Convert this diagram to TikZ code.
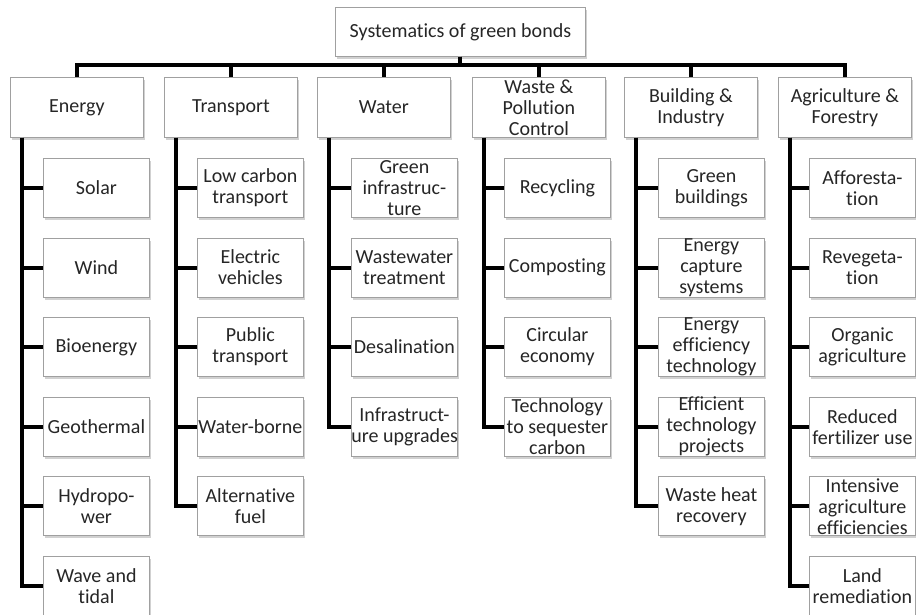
\documentclass[tikz,border=0pt]{standalone}
\usepackage{fontspec}
\setmainfont{Carlito}[Ligatures=NoCommon]
\usetikzlibrary{shadows}
\definecolor{txt}{HTML}{262626}
\definecolor{bord}{HTML}{A0A0A0}
\tikzset{
  box/.style={draw=bord, line width=0.8pt, fill=white, inner sep=0pt, anchor=north west,
    text=txt, font=\fontsize{20}{21}\selectfont,
    drop shadow={shadow xshift=2pt, shadow yshift=-2.5pt, fill=black!40, opacity=0.45}},
  conn/.style={line width=4pt, black, line join=miter},
}
\newcommand\cb[1]{\parbox[c][59pt][c]{106pt}{\centering #1}}
\newcommand\kb[1]{\parbox[c][60pt][c]{133pt}{\centering #1}}
\begin{document}
\begin{tikzpicture}[x=1pt,y=-1pt]
\useasboundingbox (0,0) rectangle (916,614);
% root
\node[box] (root) at (335,7) {\parbox[c][49pt][c]{250pt}{\centering Systematics of green bonds}};
% categories
\node[box] (E) at (10,77)  {\kb{Energy}};
\node[box] (T) at (164,77) {\kb{Transport}};
\node[box] (W) at (317,77) {\kb{Water}};
\node[box] (P) at (472,77) {\kb{Waste \&\\Pollution\\Control}};
\node[box] (B) at (624,77) {\kb{Building \&\\Industry}};
\node[box] (A) at (778,77) {\kb{Agriculture \&\\Forestry}};
% Energy children
\node[box] (E1) at (43,158)   {\cb{Solar}};
\node[box] (E2) at (43,237.6) {\cb{Wind}};
\node[box] (E3) at (43,317.2) {\cb{Bioenergy}};
\node[box] (E4) at (43,396.8) {\cb{Geothermal}};
\node[box] (E5) at (43,476.4) {\cb{Hydropo-\\wer}};
\node[box] (E6) at (43,556)   {\cb{Wave and\\tidal}};
% Transport children
\node[box] (T1) at (197,158)   {\cb{Low carbon\\transport}};
\node[box] (T2) at (197,237.6) {\cb{Electric\\vehicles}};
\node[box] (T3) at (197,317.2) {\cb{Public\\transport}};
\node[box] (T4) at (197,396.8) {\cb{Water-borne}};
\node[box] (T5) at (197,476.4) {\cb{Alternative\\fuel}};
% Water children
\node[box] (W1) at (351,158)   {\cb{Green\\infrastruc-\\ture}};
\node[box] (W2) at (351,237.6) {\cb{Wastewater\\treatment}};
\node[box] (W3) at (351,317.2) {\cb{Desalination}};
\node[box] (W4) at (351,396.8) {\cb{Infrastruct-\\\mbox{ure upgrades}}};
% Waste children
\node[box] (P1) at (504,158)   {\cb{Recycling}};
\node[box] (P2) at (504,237.6) {\cb{Composting}};
\node[box] (P3) at (504,317.2) {\cb{Circular\\economy}};
\node[box] (P4) at (504,396.8) {\cb{Technology\\\mbox{to sequester}\\carbon}};
% Building children
\node[box] (B1) at (658,158)   {\cb{Green\\buildings}};
\node[box] (B2) at (658,237.6) {\cb{Energy\\capture\\systems}};
\node[box] (B3) at (658,317.2) {\cb{Energy\\efficiency\\technology}};
\node[box] (B4) at (658,396.8) {\cb{Efficient\\technology\\projects}};
\node[box] (B5) at (658,476.4) {\cb{Waste heat\\recovery}};
% Agriculture children
\node[box] (A1) at (809,158)   {\cb{Afforesta-\\tion}};
\node[box] (A2) at (809,237.6) {\cb{Revegeta-\\tion}};
\node[box] (A3) at (809,317.2) {\cb{Organic\\agriculture}};
\node[box] (A4) at (809,396.8) {\cb{Reduced\\\mbox{fertilizer use}}};
\node[box] (A5) at (809,476.4) {\cb{Intensive\\agriculture\\efficiencies}};
\node[box] (A6) at (809,556)   {\cb{Land\\remediation}};
% bus
\coordinate (bus) at (0,65);
\foreach \c in {E,T,W,P,B,A}{
  \draw[conn] (root.south) |- (\c.north |- bus) -- (\c.north);
}
% trunks
\foreach \c/\n in {E/6,T/5,W/4,P/4,B/5,A/6}{
  \foreach \i in {1,...,\n}{
    \draw[conn] ([xshift=12pt]\c.south west) |- (\c\i.west);
  }
}
\end{tikzpicture}
\end{document}
